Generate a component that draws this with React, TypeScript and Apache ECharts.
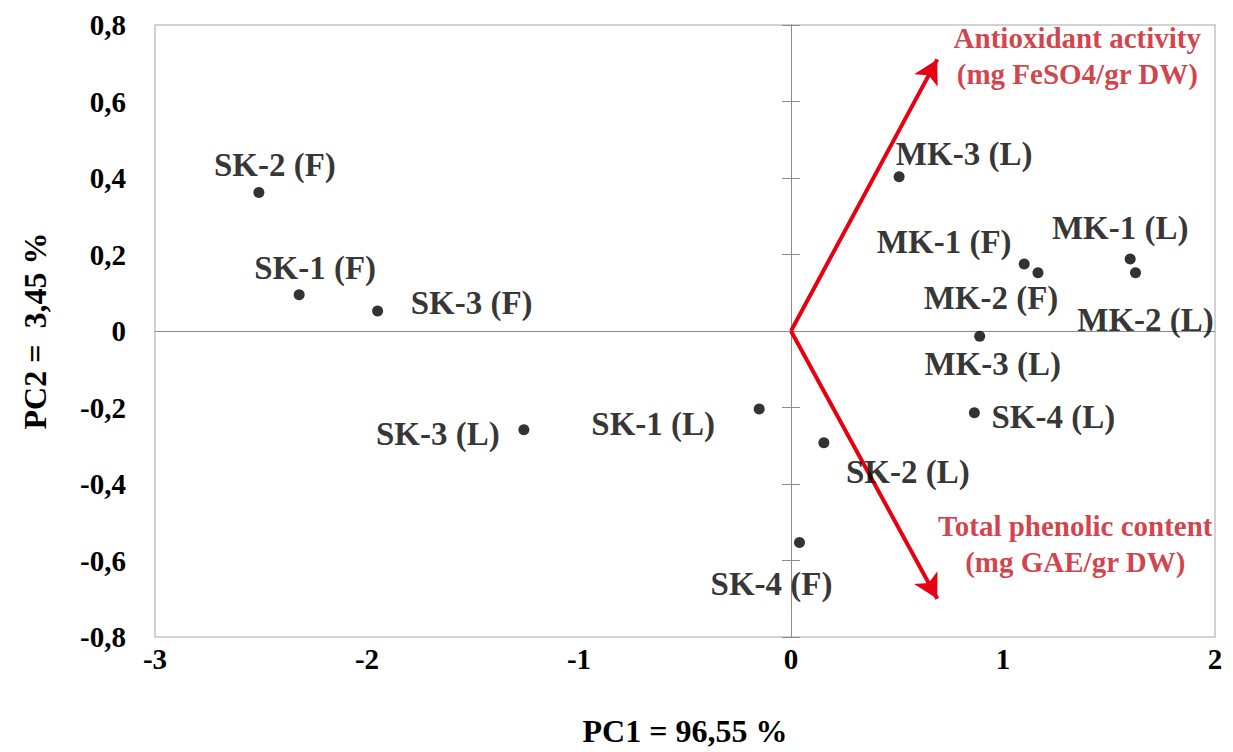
import React, { useEffect, useRef } from "react";
import * as echarts from "echarts";

// ---- data ----
const sampleNames = [
  "SK-2 (F)", "SK-1 (F)", "SK-3 (F)", "SK-3 (L)", "SK-1 (L)", "SK-2 (L)", "SK-4 (F)",
  "MK-3 (L)", "MK-1 (F)", "MK-2 (F)", "MK-1 (L)", "MK-2 (L)", "MK-3 (L)", "SK-4 (L)",
];
const pc1Scores = [-2.51, -2.32, -1.95, -1.26, -0.15, 0.155, 0.04, 0.51, 1.1, 1.165, 1.6, 1.625, 0.89, 0.865];
const pc2Scores = [0.362, 0.095, 0.052, -0.258, -0.204, -0.292, -0.553, 0.403, 0.175, 0.152, 0.188, 0.152, -0.014, -0.214];

const loadingNames = ["Antioxidant activity\n(mg FeSO4/gr DW)", "Total phenolic content\n(mg GAE/gr DW)"];
const loadingPC1 = [0.69, 0.69];
const loadingPC2 = [0.71, -0.7];

const xTicks = { min: -3, max: 2, interval: 1 };
const yTicks = { min: -0.8, max: 0.8, interval: 0.2 };
const xAxisTitle = "PC1 = 96,55 %";
const yAxisTitle = "PC2 =  3,45 %";

// ---- label placement (layout only) ----
const labelOffsets = [
  [16, -28], [16, -27], [94, -8], [-86, 4], [-106, 15], [84, 29], [-28, 41],
  [65, -23], [-80, -22], [-47, 25], [-10, -31], [10, 47], [13, 28], [79, 4],
];
const loadingLabelOffsets = [[140, -3], [138, -55]];

const FONT = "'Liberation Serif', 'Times New Roman', serif";
const GRID_COLOR = "#c3c3c3";
const AXIS_COLOR = "#8c8c8c";
const ARROW_RED = "#e60012";
const TEXT_RED = "#c8101c";

const fmtY = (v: number) => (Math.abs(v) < 1e-9 ? "0" : v.toFixed(1).replace(".", ","));

export default function App() {
  const ref = useRef<HTMLDivElement>(null);
  useEffect(() => {
    if (!ref.current) return;
    const chart = echarts.init(ref.current, undefined, { renderer: "svg" });

    const scatterData = sampleNames.map((n, i) => ({
      value: [pc1Scores[i], pc2Scores[i]],
      name: n,
      label: { offset: labelOffsets[i] },
    }));
    const loadingData = loadingNames.map((n, i) => ({
      value: [loadingPC1[i], loadingPC2[i]],
      name: n,
      label: { offset: loadingLabelOffsets[i] },
    }));
    const arrowLines = loadingNames.map((_, i) => [
      { coord: [0, 0] },
      { coord: [loadingPC1[i], loadingPC2[i]] },
    ]);

    const hiddenCommon = {
      splitLine: { show: false },
      axisLabel: { show: false },
    };

    chart.setOption({
      animation: false,
      backgroundColor: "#ffffff",
      grid: {
        left: 155,
        right: 18,
        top: 25,
        bottom: 110,
        show: true,
        borderColor: GRID_COLOR,
        borderWidth: 1.5,
        backgroundColor: "transparent",
      },
      xAxis: [
        {
          type: "value",
          ...xTicks,
          position: "bottom",
          axisLine: { show: false, onZero: false },
          axisTick: { show: false },
          splitLine: { show: false },
          axisLabel: {
            fontFamily: FONT,
            fontWeight: "bold",
            fontSize: 29,
            color: "#000",
            margin: 7,
          },
          name: xAxisTitle,
          nameLocation: "middle",
          nameGap: 78,
          nameTextStyle: { fontFamily: FONT, fontWeight: "bold", fontSize: 32, color: "#000" },
        },
        {
          type: "value",
          ...xTicks,
          ...hiddenCommon,
          axisLine: { show: true, onZero: true, lineStyle: { color: AXIS_COLOR, width: 1 } },
          axisTick: { show: false },
        },
      ],
      yAxis: [
        {
          type: "value",
          ...yTicks,
          position: "left",
          axisLine: { show: false, onZero: false },
          axisTick: { show: false },
          splitLine: { show: false },
          axisLabel: {
            fontFamily: FONT,
            fontWeight: "bold",
            fontSize: 29,
            color: "#000",
            margin: 29,
            formatter: fmtY,
          },
          name: yAxisTitle,
          nameLocation: "middle",
          nameGap: 104,
          nameTextStyle: { fontFamily: FONT, fontWeight: "bold", fontSize: 32, color: "#000" },
        },
        {
          type: "value",
          ...yTicks,
          ...hiddenCommon,
          axisLine: { show: true, onZero: true, lineStyle: { color: AXIS_COLOR, width: 1 } },
          axisTick: { show: true, length: 9, lineStyle: { color: AXIS_COLOR, width: 1 } },
        },
        {
          type: "value",
          ...yTicks,
          ...hiddenCommon,
          axisLine: { show: true, onZero: true, lineStyle: { color: AXIS_COLOR, width: 1 } },
          axisTick: { show: true, inside: true, length: 9, lineStyle: { color: AXIS_COLOR, width: 1 } },
        },
      ],
      series: [
        {
          type: "scatter",
          name: "scores",
          xAxisIndex: 0,
          yAxisIndex: 0,
          symbol: "circle",
          symbolSize: 11,
          itemStyle: { color: "#000" },
          silent: true,
          data: scatterData,
          label: {
            show: true,
            position: "inside",
            formatter: (p: any) => p.name,
            fontFamily: FONT,
            fontWeight: "bold",
            fontSize: 33,
            color: "#000",
            align: "center",
            verticalAlign: "middle",
          },
          z: 5,
        },
        {
          type: "scatter",
          name: "loadings",
          xAxisIndex: 0,
          yAxisIndex: 0,
          symbolSize: 0,
          silent: true,
          data: loadingData,
          label: {
            show: true,
            position: "inside",
            formatter: (p: any) => p.name,
            fontFamily: FONT,
            fontWeight: "bold",
            fontSize: 29,
            lineHeight: 36,
            color: TEXT_RED,
            align: "center",
            verticalAlign: "middle",
          },
          markLine: {
            silent: true,
            symbol: ["none", "arrow"],
            symbolSize: [20, 24],
            lineStyle: { color: ARROW_RED, width: 4, type: "solid" },
            label: { show: false },
            emphasis: { disabled: true },
            data: arrowLines,
          },
          z: 4,
        },
      ],
    });
    return () => chart.dispose();
  }, []);
  return (
    <div
      ref={ref}
      style={{ position: "fixed", left: 0, top: 0, width: 1233, height: 752, background: "#fff" }}
    />
  );
}
